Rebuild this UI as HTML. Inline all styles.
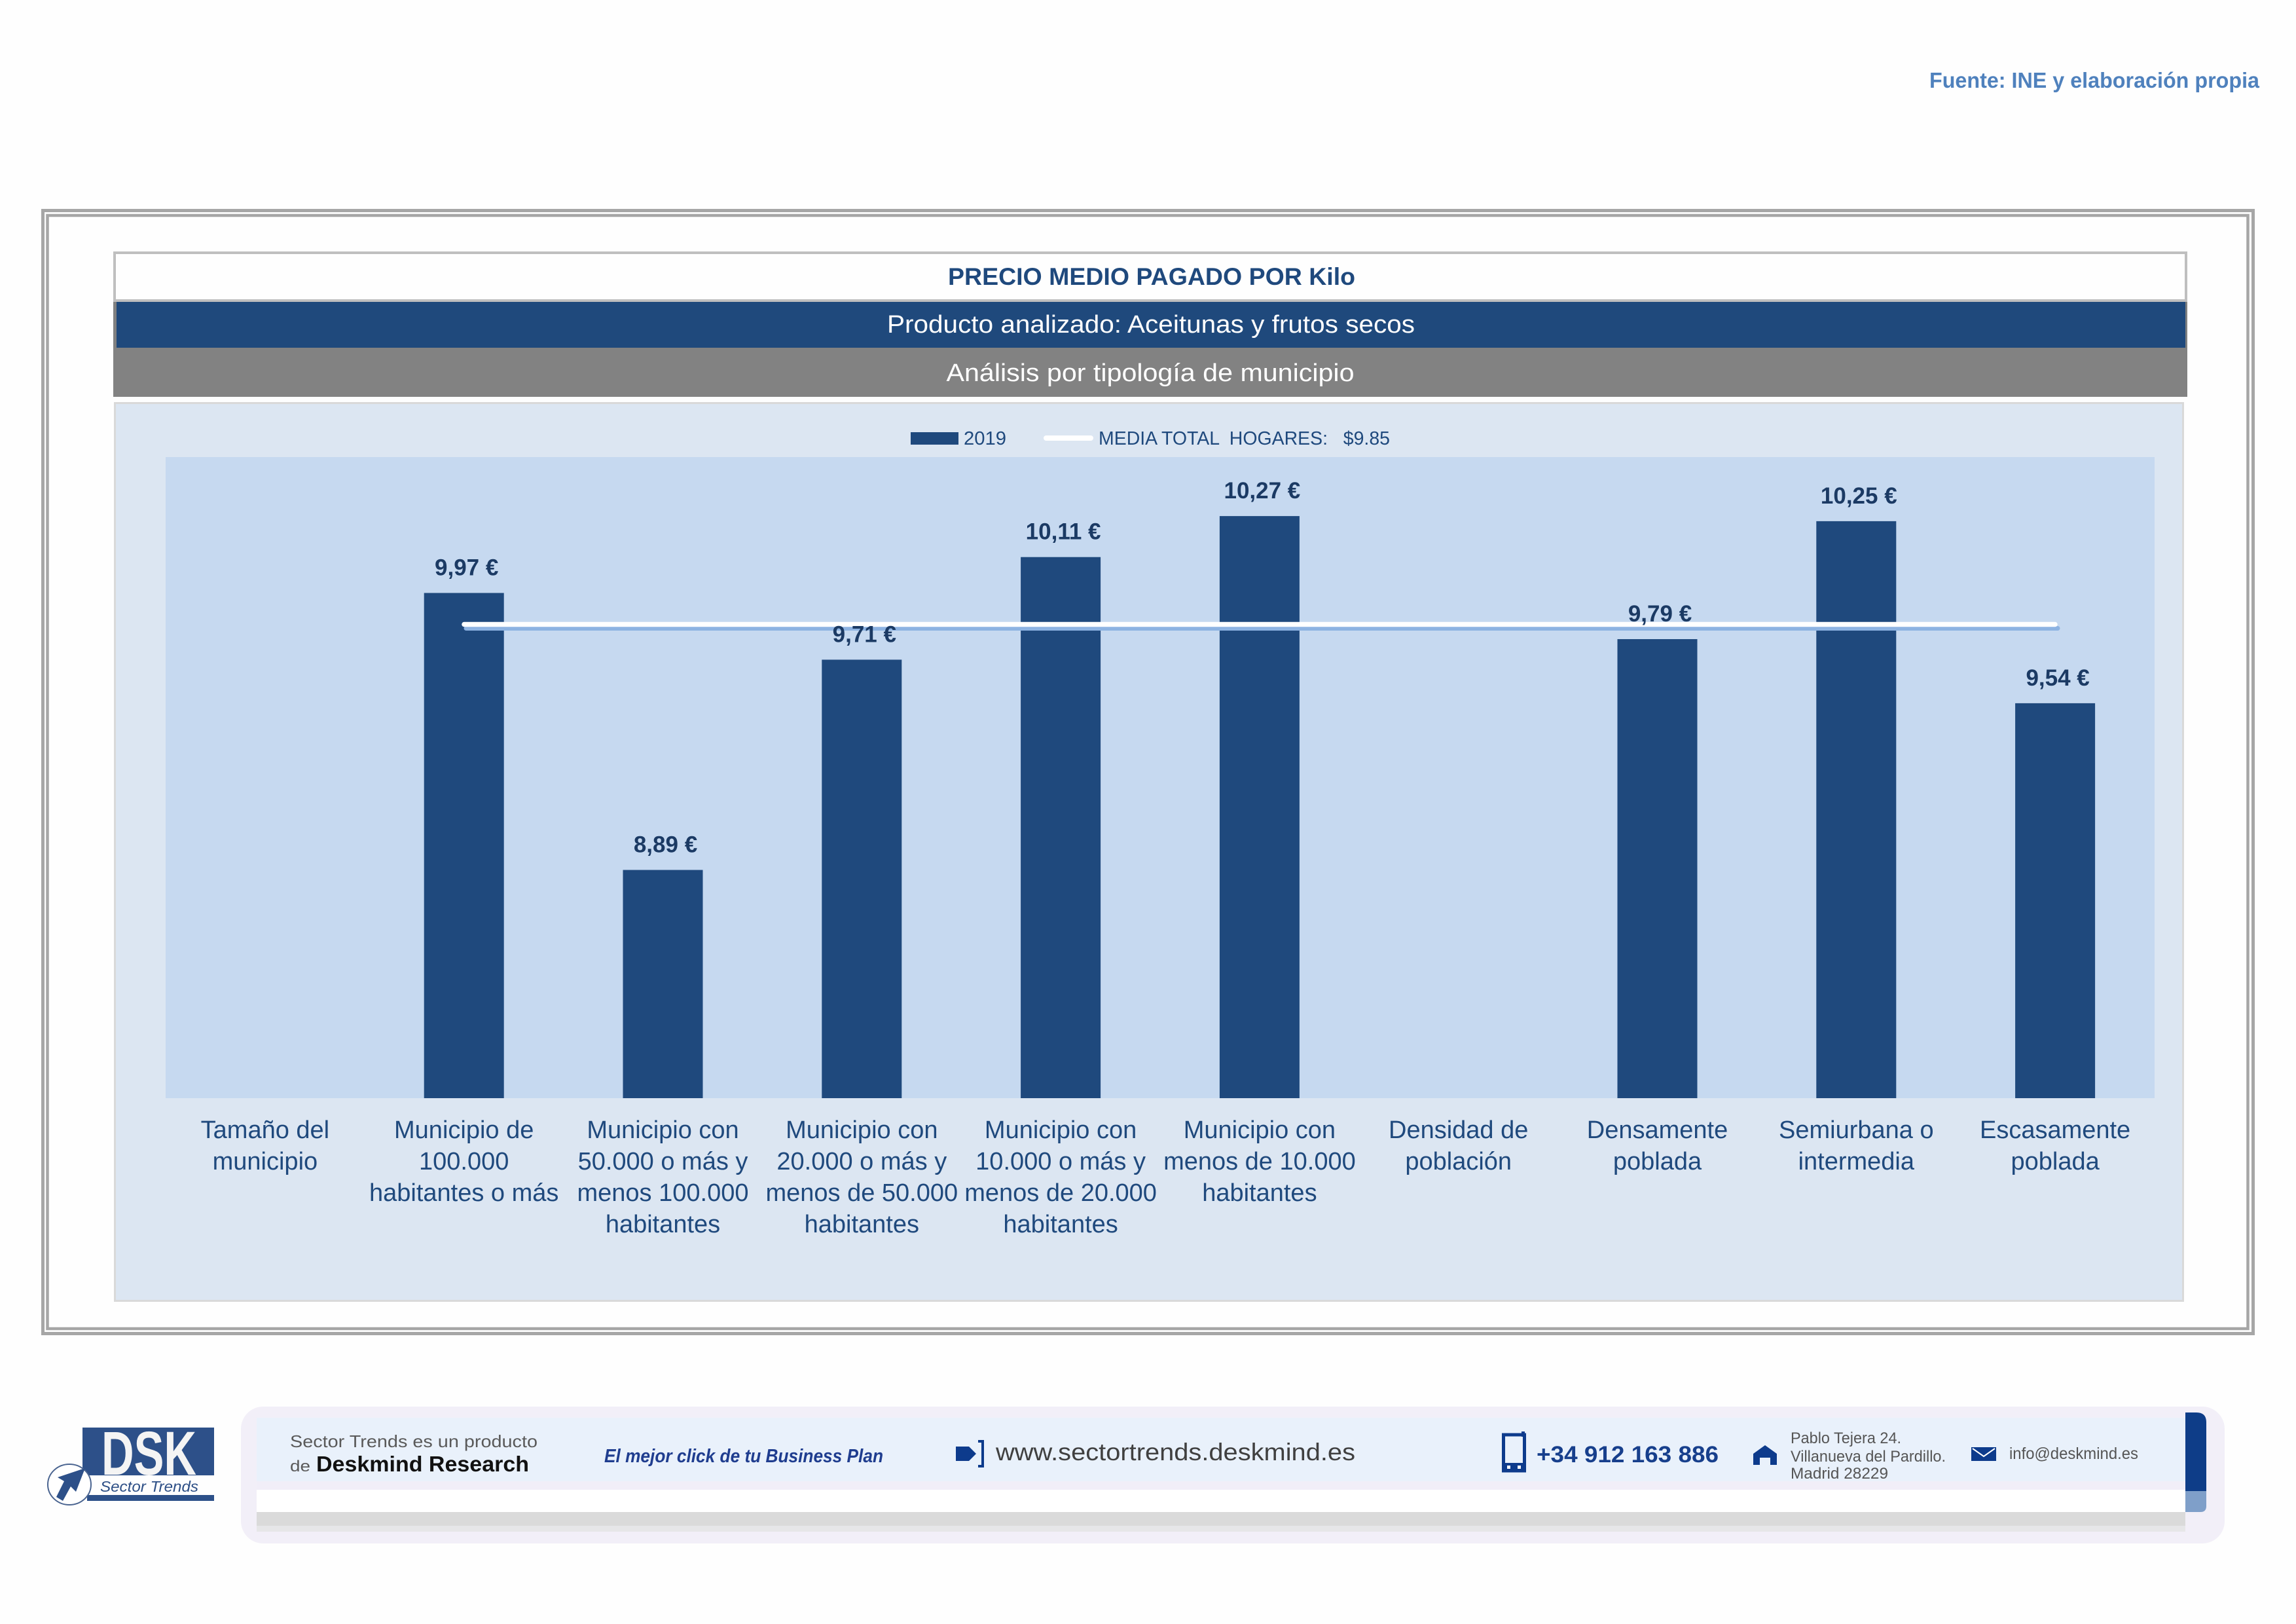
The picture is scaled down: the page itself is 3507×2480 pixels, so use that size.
<!DOCTYPE html>
<html><head><meta charset="utf-8"><style>
html,body{margin:0;padding:0;background:#fff;}
svg{display:block;}
text{font-family:"Liberation Sans",Arial,sans-serif;}
</style></head><body>
<svg width="3507" height="2480" viewBox="0 0 3507 2480" xmlns="http://www.w3.org/2000/svg">
<rect x="0" y="0" width="3507" height="2480" fill="#fefefe"/>

<!-- Fuente -->
<text x="2947" y="134" font-size="33" font-weight="bold" fill="#4f81bd" textLength="504" lengthAdjust="spacingAndGlyphs">Fuente: INE y elaboración propia</text>

<!-- outer double border -->
<rect x="65.5" y="321.5" width="3376" height="1715" fill="none" stroke="#a6a6a6" stroke-width="5"/>
<rect x="72.5" y="329" width="3361" height="1700" fill="none" stroke="#a6a6a6" stroke-width="4.5"/>

<!-- title box -->
<rect x="175" y="386" width="3164" height="73" fill="#fefefe" stroke="#bfbfbf" stroke-width="4"/>
<text x="1759" y="435" font-size="37" font-weight="bold" fill="#1f497d" text-anchor="middle" textLength="622" lengthAdjust="spacingAndGlyphs">PRECIO MEDIO PAGADO POR Kilo</text>
<!-- blue band -->
<rect x="173" y="461" width="3168" height="70" fill="#808080"/>
<rect x="178" y="461" width="3160" height="70" fill="#1f497c"/>
<text x="1758" y="508" font-size="38" fill="#ffffff" text-anchor="middle" textLength="806" lengthAdjust="spacingAndGlyphs">Producto analizado: Aceitunas y frutos secos</text>
<!-- gray band -->
<rect x="173" y="531" width="3168" height="75" fill="#828282"/>
<text x="1757" y="582" font-size="38" fill="#ffffff" text-anchor="middle" textLength="623" lengthAdjust="spacingAndGlyphs">Análisis por tipología de municipio</text>

<!-- chart area -->
<rect x="175.5" y="615.5" width="3159" height="1371" fill="#dce6f2" stroke="#d9d9d9" stroke-width="3"/>
<!-- plot area -->
<rect x="253" y="698" width="3038" height="979" fill="#c6d9f0"/>

<!-- legend -->
<rect x="1391" y="660" width="73" height="19" fill="#1f497d"/>
<text x="1472" y="679" font-size="29" fill="#1f497d" textLength="65" lengthAdjust="spacingAndGlyphs">2019</text>
<line x1="1598" y1="669" x2="1666" y2="669" stroke="#ffffff" stroke-width="8" stroke-linecap="round"/>
<text x="1678" y="679" font-size="29" fill="#1f497d" textLength="445" lengthAdjust="spacingAndGlyphs" style="white-space:pre">MEDIA TOTAL  HOGARES:   $9.85</text>

<!-- bars -->
<g fill="#1f497d">
<rect x="647.7" y="905.5" width="122" height="771.5"/>
<rect x="951.5" y="1328.5" width="122" height="348.5"/>
<rect x="1255.3" y="1007.4" width="122" height="669.6"/>
<rect x="1559.1" y="850.7" width="122" height="826.3"/>
<rect x="1862.9" y="788.1" width="122" height="888.9"/>
<rect x="2470.5" y="976" width="122" height="701"/>
<rect x="2774.3" y="795.9" width="122" height="881.1"/>
<rect x="3078.1" y="1073.9" width="122" height="603.1"/>
</g>

<!-- mean line -->
<line x1="712" y1="959.5" x2="3143" y2="959.5" stroke="#8db3e2" stroke-width="7" stroke-linecap="round"/>
<line x1="709" y1="953.5" x2="3139" y2="953.5" stroke="#ffffff" stroke-width="7.5" stroke-linecap="round"/>

<!-- data labels -->
<g font-size="35" font-weight="bold" fill="#1b3a64" text-anchor="middle">
<text x="712.7" y="878.5">9,97 €</text>
<text x="1016.5" y="1301.5">8,89 €</text>
<text x="1320.3" y="980.4">9,71 €</text>
<text x="1624.1" y="823.7">10,11 €</text>
<text x="1927.9" y="761.1">10,27 €</text>
<text x="2535.5" y="949">9,79 €</text>
<text x="2839.3" y="768.9">10,25 €</text>
<text x="3143.1" y="1046.9">9,54 €</text>
</g>

<!-- category labels -->
<g font-size="38" fill="#1f497d" text-anchor="middle">
<text x="404.9" y="1738">Tamaño del</text>
<text x="404.9" y="1786">municipio</text>

<text x="708.7" y="1738">Municipio de</text>
<text x="708.7" y="1786">100.000</text>
<text x="708.7" y="1834">habitantes o más</text>

<text x="1012.5" y="1738">Municipio con</text>
<text x="1012.5" y="1786">50.000 o más y</text>
<text x="1012.5" y="1834">menos 100.000</text>
<text x="1012.5" y="1882">habitantes</text>

<text x="1316.3" y="1738">Municipio con</text>
<text x="1316.3" y="1786">20.000 o más y</text>
<text x="1316.3" y="1834">menos de 50.000</text>
<text x="1316.3" y="1882">habitantes</text>

<text x="1620.1" y="1738">Municipio con</text>
<text x="1620.1" y="1786">10.000 o más y</text>
<text x="1620.1" y="1834">menos de 20.000</text>
<text x="1620.1" y="1882">habitantes</text>

<text x="1923.9" y="1738">Municipio con</text>
<text x="1923.9" y="1786">menos de 10.000</text>
<text x="1923.9" y="1834">habitantes</text>

<text x="2227.7" y="1738">Densidad de</text>
<text x="2227.7" y="1786">población</text>

<text x="2531.5" y="1738">Densamente</text>
<text x="2531.5" y="1786">poblada</text>

<text x="2835.3" y="1738">Semiurbana o</text>
<text x="2835.3" y="1786">intermedia</text>

<text x="3139.1" y="1738">Escasamente</text>
<text x="3139.1" y="1786">poblada</text>
</g>

<!-- ===== footer ===== -->
<!-- DSK logo -->
<rect x="126" y="2180" width="201" height="73" fill="#2d5089"/>
<text x="155" y="2252" font-size="95" font-weight="bold" fill="#f4f4f4" textLength="145" lengthAdjust="spacingAndGlyphs">DSK</text>
<text x="153" y="2278" font-size="23" font-style="italic" fill="#2d4f86" textLength="150" lengthAdjust="spacingAndGlyphs">Sector Trends</text>
<rect x="133" y="2283" width="194" height="9" fill="#2d5089"/>
<ellipse cx="106" cy="2267" rx="33" ry="31" fill="#ffffff" stroke="#4a6490" stroke-width="2"/>
<polygon points="130,2242 88,2256 98,2262 86,2286 96,2292 108,2270 116,2278" fill="#2d5089"/>

<!-- card glow -->
<rect x="368" y="2148" width="3030" height="209" rx="34" fill="#f2eff8"/>
<!-- card shadow -->
<rect x="392" y="2300" width="2946" height="39" fill="#dadada"/>
<rect x="392" y="2330" width="2946" height="9" fill="#e6e6e8"/>
<!-- card -->
<rect x="392" y="2165" width="2946" height="144" fill="#ffffff"/>
<rect x="392" y="2165" width="2946" height="105" fill="#e9f1fb"/>
<rect x="392" y="2262" width="2946" height="13" fill="#f1eef8"/>
<!-- right tab -->
<path d="M3338,2157 L3355,2157 Q3370,2157 3370,2172 L3370,2277 L3338,2277 Z" fill="#0e3d88"/>
<path d="M3338,2277 L3370,2277 L3370,2300 Q3370,2309 3361,2309 L3338,2309 Z" fill="#7f9fc9"/>

<!-- footer texts -->
<text x="443" y="2210" font-size="26" fill="#5a5a5a" textLength="378" lengthAdjust="spacingAndGlyphs">Sector Trends es un producto</text>
<text x="443" y="2247" font-size="24" fill="#5a5a5a" textLength="31" lengthAdjust="spacingAndGlyphs">de</text>
<text x="483" y="2247" font-size="33" font-weight="bold" fill="#111111" textLength="325" lengthAdjust="spacingAndGlyphs">Deskmind Research</text>
<text x="923" y="2233" font-size="29" font-weight="bold" font-style="italic" fill="#1f3d8f" textLength="426" lengthAdjust="spacingAndGlyphs">El mejor click de tu Business Plan</text>

<!-- arrow icon -->
<polygon points="1460,2209 1480,2209 1491,2220 1480,2231 1460,2231" fill="#0d3b8c"/>
<path d="M1494,2201 L1501,2201 L1501,2239 L1494,2239" fill="none" stroke="#0d3b8c" stroke-width="4"/>
<text x="1521" y="2230" font-size="37" fill="#404040" textLength="549" lengthAdjust="spacingAndGlyphs">www.sectortrends.deskmind.es</text>

<!-- phone icon -->
<rect x="2296.5" y="2191" width="32" height="55" fill="none" stroke="#0d3b8c" stroke-width="5"/>
<rect x="2296" y="2234" width="33" height="14" fill="#0d3b8c"/>
<rect x="2302" y="2238" width="5" height="5" fill="#ffffff"/>
<rect x="2318" y="2238" width="5" height="5" fill="#ffffff"/>
<rect x="2324" y="2186" width="5" height="8" fill="#0d3b8c"/>
<text x="2347" y="2233" font-size="35" font-weight="bold" fill="#173f8c" textLength="278" lengthAdjust="spacingAndGlyphs">+34 912 163 886</text>

<!-- house icon -->
<polygon points="2696,2207 2714,2220 2714,2237 2704,2237 2704,2226 2688,2226 2688,2237 2678,2237 2678,2220" fill="#0d3b8c"/>
<g font-size="24" fill="#555555">
<text x="2735" y="2204" textLength="169" lengthAdjust="spacingAndGlyphs">Pablo Tejera 24.</text>
<text x="2735" y="2232" textLength="237" lengthAdjust="spacingAndGlyphs">Villanueva del Pardillo.</text>
<text x="2735" y="2258" textLength="149" lengthAdjust="spacingAndGlyphs">Madrid 28229</text>
</g>

<!-- envelope icon -->
<rect x="3011" y="2210" width="38" height="21" fill="#0d3b8c"/>
<polyline points="3013,2212 3030,2224 3047,2212" fill="none" stroke="#ffffff" stroke-width="2"/>
<text x="3069" y="2228" font-size="25" fill="#555555" textLength="197" lengthAdjust="spacingAndGlyphs">info@deskmind.es</text>
</svg>
</body></html>
